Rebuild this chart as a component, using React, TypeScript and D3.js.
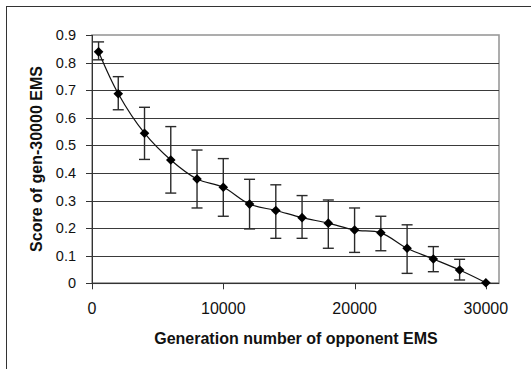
import React from "react";
import * as d3 from "d3";

const gens = [500, 2000, 4000, 6000, 8000, 10000, 12000, 14000, 16000, 18000, 20000, 22000, 24000, 26000, 28000, 30000];
const scores = [0.839, 0.687, 0.544, 0.447, 0.378, 0.348, 0.287, 0.264, 0.238, 0.218, 0.193, 0.183, 0.127, 0.088, 0.048, 0.002];
const upper = [0.875, 0.749, 0.638, 0.568, 0.483, 0.452, 0.377, 0.357, 0.318, 0.302, 0.273, 0.243, 0.212, 0.133, 0.087, null];
const lower = [0.81, 0.629, 0.449, 0.327, 0.273, 0.243, 0.197, 0.163, 0.163, 0.127, 0.112, 0.118, 0.036, 0.042, 0.012, null];
const xTicks = [0, 10000, 20000, 30000];
const yTicks = [0, 0.1, 0.2, 0.3, 0.4, 0.5, 0.6, 0.7, 0.8, 0.9];
const xTitle = "Generation number of opponent EMS";
const yTitle = "Score of gen-30000 EMS";

export default function App() {
  const W = 531, H = 369;
  const left = 92, right = 499, top = 35, bottom = 283.3;
  const x = d3.scaleLinear().domain([0, 31000]).range([left, right]);
  const y = d3.scaleLinear().domain([0, 0.9]).range([bottom, top]);
  const pts = gens.map((g, i) => [x(g), y(scores[i])] as [number, number]);
  const line = d3.line().curve(d3.curveCatmullRom.alpha(0.5))(pts) || "";
  const font = "'Liberation Sans', Arial, sans-serif";
  return (
    <svg width={W} height={H} style={{ position: "absolute", left: 0, top: 0, background: "#fff" }}>
      <rect x={6.5} y={6.5} width={700} height={500} fill="none" stroke="#333" strokeWidth={1} />
      <rect x={left} y={top} width={right - left} height={bottom - top} fill="none" stroke="#999" strokeWidth={1.6} />
      {yTicks.filter(t => t > 0 && t < 0.9).map(t => (
        <line key={t} x1={left} x2={right} y1={Math.round(y(t)) + 0.5} y2={Math.round(y(t)) + 0.5} stroke="#3a3a3a" strokeWidth={1} />
      ))}
      <line x1={left + 0.5} x2={left + 0.5} y1={top} y2={bottom} stroke="#333" strokeWidth={1} />
      <line x1={left} x2={right} y1={bottom} y2={bottom} stroke="#333" strokeWidth={1.2} />
      {yTicks.map(t => (
        <g key={t}>
          <line x1={left - 6} x2={left} y1={Math.round(y(t)) + 0.5} y2={Math.round(y(t)) + 0.5} stroke="#333" strokeWidth={1} />
          <text x={76} y={y(t) + 5} textAnchor="end" fontFamily={font} fontSize={14.5} fill="#111">{t === 0 ? "0" : t.toFixed(1)}</text>
        </g>
      ))}
      {xTicks.map(t => (
        <g key={t}>
          <line x1={Math.round(x(t)) + 0.5} x2={Math.round(x(t)) + 0.5} y1={bottom} y2={bottom + 6} stroke="#333" strokeWidth={1} />
          <text x={x(t)} y={314} textAnchor="middle" fontFamily={font} fontSize={16} fill="#111">{t}</text>
        </g>
      ))}
      {gens.map((g, i) => {
        const u = upper[i], l = lower[i];
        if (u == null || l == null) return null;
        const cx = x(g);
        return (
          <g key={g} stroke="#2a2a2a" strokeWidth={1.4}>
            <line x1={cx} x2={cx} y1={y(u)} y2={y(l)} />
            <line x1={cx - 5.5} x2={cx + 5.5} y1={y(u)} y2={y(u)} />
            <line x1={cx - 5.5} x2={cx + 5.5} y1={y(l)} y2={y(l)} />
          </g>
        );
      })}
      <path d={line} fill="none" stroke="#111" strokeWidth={1.2} />
      {pts.map(([px, py], i) => (
        <path key={i} d={`M${px},${py - 4.8}L${px + 4.8},${py}L${px},${py + 4.8}L${px - 4.8},${py}Z`} fill="#000" />
      ))}
      <text x={296} y={344} textAnchor="middle" fontFamily={font} fontSize={16} fontWeight="bold" fill="#111">{xTitle}</text>
      <text transform={`translate(42,159) rotate(-90)`} textAnchor="middle" fontFamily={font} fontSize={16} fontWeight="bold" fill="#111">{yTitle}</text>
    </svg>
  );
}
